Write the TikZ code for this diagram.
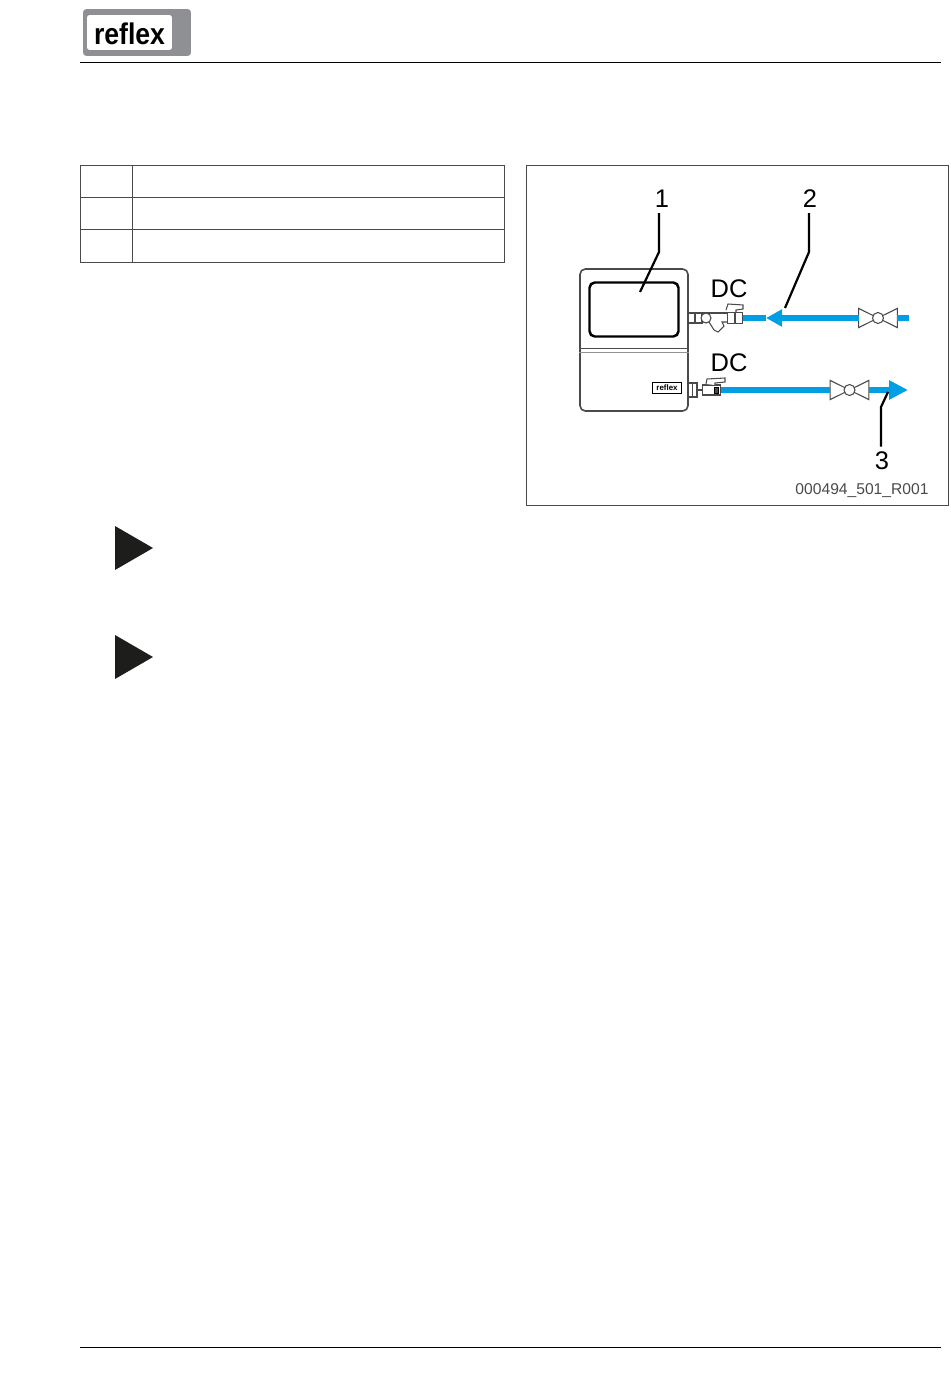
\documentclass[tikz,border=0pt]{standalone}
\usepackage{fontspec}
\setmainfont{Liberation Sans}
\usepackage{tikz}
\usetikzlibrary{arrows.meta}

\definecolor{pipeblue}{HTML}{009FE3}
\definecolor{logogray}{HTML}{8F9093}
\definecolor{markblack}{HTML}{1D1D1B}
\definecolor{unitgray}{HTML}{4A4A4A}

\tikzset{
  pipe/.style={draw=pipeblue, line width=2.9pt},
  leader/.style={draw=black, line width=1.25pt},
  fitting/.style={draw=unitgray, line width=0.6pt, fill=white},
  callout/.style={font=\fontsize{14.5}{16}\selectfont, inner sep=0pt, outer sep=3pt}
}

\begin{document}
\begin{tikzpicture}[x=0.02cm, y=-0.02cm]
  \useasboundingbox (0,0) rectangle (950,1399);

  % header and footer
  \node[fill=logogray, rounded corners=2pt, minimum width=2.16cm, minimum height=0.94cm, inner sep=0pt] (logo) at (137,32.5) {};
  \node[fill=white, rounded corners=1.5pt, minimum width=1.7cm, minimum height=0.7cm, inner sep=0pt] (logobox) at (129.5,32.5) {};
  \node[font=\bfseries\fontsize{17}{17}\selectfont, xscale=0.89, inner sep=0pt] (logoword) at (129.5,34) {reflex};
  \coordinate (headl) at (80,62);
  \coordinate (headr) at (941,62);
  \coordinate (footl) at (80,1347);
  \coordinate (footr) at (941,1347);
  \draw[line width=0.5pt] (headl) -- (headr);
  \draw[line width=0.5pt] (footl) -- (footr);

  % empty table
  \draw[draw=unitgray, line width=0.4pt] (80,165) rectangle (504.5,262);
  \draw[draw=unitgray, line width=0.4pt] (132,165) -- (132,262);
  \foreach \rowy in {197,229}
    \draw[draw=unitgray, line width=0.4pt] (80,\rowy) -- (504.5,\rowy);

  % figure frame
  \draw[draw=unitgray, line width=0.5pt] (526,165) rectangle (948,505);

  % unit
  \node[draw=unitgray, line width=0.9pt, rounded corners=3pt, minimum width=2.16cm, minimum height=2.84cm, inner sep=0pt] (unit) at (634,340) {};
  \node[draw=black, line width=1.4pt, rounded corners=3pt, minimum width=1.78cm, minimum height=1.08cm, inner sep=0pt] (screen) at (634,309.5) {};
  \draw[draw=unitgray, line width=0.5pt] (unit.west |- 0,348) -- (unit.east |- 0,348);
  \draw[draw=unitgray!60, line width=0.5pt] (unit.west |- 0,352) -- (unit.east |- 0,352);
  \node[draw=black, line width=0.5pt, minimum width=0.58cm, minimum height=0.23cm, inner sep=0pt, font=\bfseries\fontsize{4.5}{5}\selectfont] (unitlogo) at (667,388) {reflex};

  % fittings
  \node[fitting, minimum width=0.28cm, minimum height=0.2cm, inner sep=0pt] (stubin) at (695,318) {};
  \draw[fitting] (stubin.center |- 0,312) -- (stubin.center |- 0,323);
  \node[fitting, minimum width=0.3cm, minimum height=0.22cm, inner sep=0pt] (ballin) at (735,318) {};
  \draw[fitting] (ballin.center |- 0,312) -- (ballin.center |- 0,323);
  \draw[fitting] (702,313) -- (727,313);
  \draw[fitting] (702,322) -- (709,322) -- (714,330) -- (718,332) -- (724,326) -- (722,322) -- (727,322);
  \node[fitting, circle, minimum size=0.2cm, inner sep=0pt] (strainer) at (706,318) {};
  \draw[fitting] (726,310) -- (728,304) -- (743,305) -- (743,309) -- (736,310) -- (736,312);
  \node[fitting, minimum width=0.18cm, minimum height=0.28cm, inner sep=0pt] (stubout) at (692.5,390) {};
  \draw[fitting] (stubout.center |- 0,383) -- (stubout.center |- 0,397);
  \node[fitting, minimum width=0.36cm, minimum height=0.2cm, inner sep=0pt] (ballout) at (711.5,390) {};
  \draw[fitting] (stubout.east) -- (ballout.west);
  \node[draw=black, fill=unitgray, minimum width=0.08cm, minimum height=0.12cm, inner sep=0pt] (ballcore) at (716,390) {};
  \draw[fitting] (706,384) -- (707,379) -- (725,378) -- (725,382) -- (715,383) -- (715,385);

  % valves
  \foreach \vname/\vx/\vy in {valvein/878/318, valveout/849.5/390} {
    \node[minimum width=0.76cm, minimum height=0.37cm, inner sep=0pt] (\vname) at (\vx,\vy) {};
    \draw[fitting] (\vname.south west) -- (\vname.north east) -- (\vname.south east) -- (\vname.north west) -- cycle;
    \node[fitting, circle, minimum size=0.22cm, inner sep=0pt] (\vname disc) at (\vx,\vy) {};
  }

  % pipes
  \coordinate (inlet) at (909,318);
  \coordinate (headin) at (766,318);
  \coordinate (outlet) at (908,390);
  \draw[pipe] (inlet) -- (valvein.east);
  \draw[pipe, -{Triangle[length=9.2pt, width=9.4pt]}] (valvein.west) -- (headin);
  \draw[pipe] (headin) -- (ballin.east);
  \draw[pipe] (ballout.east) -- (valveout.west);
  \draw[pipe, -{Triangle[length=10.8pt, width=10.4pt]}] (valveout.east) -- (outlet);

  % labels
  \node[callout] (labelone) at (662,199) {1};
  \node[callout] (labeltwo) at (810,199) {2};
  \node[callout] (labelthree) at (882,461) {3};
  \node[font=\fontsize{14.5}{16}\selectfont, inner sep=0pt] (dcin) at (729,289) {DC};
  \node[font=\fontsize{14.5}{16}\selectfont, inner sep=0pt] (dcout) at (729,363) {DC};
  \node[font=\fontsize{8.9}{10}\selectfont, text=unitgray, inner sep=0pt] (drawno) at (862,491) {000494\_501\_R001};

  \coordinate (bendone) at (659,252);
  \coordinate (endone) at (640,292);
  \coordinate (bendtwo) at (809,252);
  \coordinate (endtwo) at (785,308);
  \coordinate (bendthree) at (881,407);
  \coordinate (endthree) at (888,392);
  \draw[leader] (labelone.south -| bendone) -- (bendone) -- (endone);
  \draw[leader] (labeltwo.south -| bendtwo) -- (bendtwo) -- (endtwo);
  \draw[leader] (labelthree.north -| bendthree) -- (bendthree) -- (endthree);

  % step markers
  \foreach \marky in {548,657}
    \fill[markblack] (115,\marky-22) -- (153,\marky) -- (115,\marky+22) -- cycle;
\end{tikzpicture}
\end{document}
